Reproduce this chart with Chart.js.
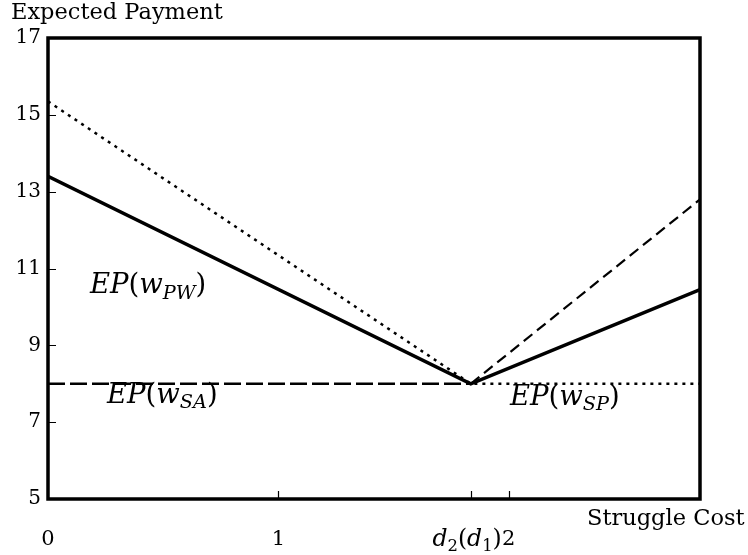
<!DOCTYPE html>
<html>
<head>
<meta charset="utf-8">
<script src="https://cdn.jsdelivr.net/npm/chart.js@4"></script>
<style>
  html, body { margin: 0; padding: 0; background: #fff; }
  #wrap { width: 748px; height: 555px; }
</style>
</head>
<body>
<div id="wrap"><canvas id="myChart" width="748" height="555"></canvas></div>
<script>
// x positions
const D2 = 1.835;
const X_MAX = 2.83;
const xTicks = [0, 1, D2, 2];
const xTickLabels = ['0', '1', '', '2'];
const yTicks = [5, 7, 9, 11, 13, 15, 17];

// series
const solidX = [0, D2, X_MAX];
const solidY = [13.4, 8, 10.45];
const dottedX = [0, D2, X_MAX];
const dottedY = [15.35, 8, 8];
const flatDashX = [0, D2];
const flatDashY = [8, 8];
const riseDashX = [D2, X_MAX];
const riseDashY = [8, 12.8];

// text labels (data coords, left / baseline)
const labelPW = { x: 0.182, y: 10.36 };
const labelSA = { x: 0.256, y: 7.5 };
const labelSP = { x: 2.005, y: 7.45 };

const FONT = '"DejaVu Serif"';

function pts(xs, ys) {
  return xs.map((x, i) => ({ x: x, y: ys[i] }));
}

// draw a small math-like string: parts = [{t, it, sub}]
function drawMath(ctx, parts, x, y, size, dry) {
  let cx = x;
  parts.forEach((p) => {
    const s = p.sub ? size * 0.7 : size;
    ctx.font = (p.it ? 'italic ' : '') + s + 'px ' + FONT;
    if (!dry) ctx.fillText(p.t, cx, p.sub ? y + size * 0.2 : y);
    cx += ctx.measureText(p.t).width;
  });
  return cx - x;
}

function epParts(sub) {
  return [
    { t: 'E', it: true }, { t: 'P', it: true }, { t: '(' },
    { t: 'w', it: true }, { t: sub, it: true, sub: true }, { t: ')' }
  ];
}

const decor = {
  id: 'decor',
  afterDraw(chart) {
    const ctx = chart.ctx;
    const a = chart.chartArea;
    const xs = chart.scales.x;
    const ys = chart.scales.y;
    ctx.save();
    ctx.strokeStyle = '#000';
    ctx.fillStyle = '#000';

    // inner ticks
    ctx.lineWidth = 1.2;
    ctx.beginPath();
    yTicks.slice(1, -1).forEach((v) => {
      const py = Math.round(ys.getPixelForValue(v)) + 0.5;
      ctx.moveTo(a.left, py);
      ctx.lineTo(a.left + 8, py);
    });
    xTicks.slice(1).forEach((v) => {
      const px = Math.round(xs.getPixelForValue(v)) + 0.5;
      ctx.moveTo(px, a.bottom);
      ctx.lineTo(px, a.bottom - 8);
    });
    ctx.stroke();

    // frame
    ctx.lineWidth = 3.5;
    ctx.strokeRect(a.left, a.top, a.right - a.left, a.bottom - a.top);

    // axis titles
    ctx.textBaseline = 'alphabetic';
    ctx.textAlign = 'left';
    ctx.font = '22.5px ' + FONT;
    ctx.fillText('Expected Payment', 11, 19);
    ctx.fillText('Struggle Cost', 587, 525);

    // d2(d1) tick label, sits right before the "2"
    const dParts = [
      { t: 'd', it: true }, { t: '2', sub: true }, { t: '(' },
      { t: 'd', it: true }, { t: '1', sub: true }, { t: ')' }
    ];
    const w = drawMath(ctx, dParts, 0, 0, 23.5, true);
    drawMath(ctx, dParts, xs.getPixelForValue(2) - 7 - w, 546, 23.5);

    // curve labels
    const lab = (p, sub) => {
      drawMath(ctx, epParts(sub), xs.getPixelForValue(p.x), ys.getPixelForValue(p.y), 27.5);
    };
    lab(labelPW, 'PW');
    lab(labelSA, 'SA');
    lab(labelSP, 'SP');
    ctx.restore();
  }
};

window.onload = function () {
  const config = {
    type: 'scatter',
    data: {
      datasets: [
        {
          label: 'solid',
          data: pts(solidX, solidY),
          showLine: true,
          borderColor: '#000',
          borderWidth: 3.5,
          pointRadius: 0
        },
        {
          label: 'dotted',
          data: pts(dottedX, dottedY),
          showLine: true,
          borderColor: '#000',
          borderWidth: 2.5,
          borderDash: [3, 5],
          pointRadius: 0
        },
        {
          label: 'flat dashed',
          data: pts(flatDashX, flatDashY),
          showLine: true,
          borderColor: '#000',
          borderWidth: 2.5,
          borderDash: [17, 5],
          pointRadius: 0
        },
        {
          label: 'rising dashed',
          data: pts(riseDashX, riseDashY),
          showLine: true,
          borderColor: '#000',
          borderWidth: 2.2,
          borderDash: [11, 6],
          pointRadius: 0
        }
      ]
    },
    options: {
      responsive: false,
      animation: false,
      layout: { padding: { top: 38, right: 48, left: 0, bottom: 0 } },
      plugins: {
        legend: { display: false },
        tooltip: { enabled: false }
      },
      scales: {
        x: {
          type: 'linear',
          min: 0,
          max: X_MAX,
          afterBuildTicks: (scale) => {
            scale.ticks = xTicks.map((v) => ({ value: v }));
          },
          afterFit: (scale) => { scale.height = 56; },
          grid: { display: false, drawTicks: false },
          border: { display: false },
          ticks: {
            autoSkip: false,
            maxRotation: 0,
            padding: 28,
            color: '#000',
            font: { family: 'DejaVu Serif', size: 21 },
            callback: (v, i) => xTickLabels[i]
          }
        },
        y: {
          type: 'linear',
          min: 5,
          max: 17,
          afterBuildTicks: (scale) => {
            scale.ticks = yTicks.map((v) => ({ value: v }));
          },
          afterFit: (scale) => { scale.width = 48; },
          grid: { display: false, drawTicks: false },
          border: { display: false },
          ticks: {
            padding: 7,
            color: '#000',
            font: { family: 'DejaVu Serif', size: 20 }
          }
        }
      }
    },
    plugins: [decor]
  };
  const ctx = document.getElementById('myChart');
  const myChart = new Chart(ctx, config);
};
</script>
</body>
</html>
